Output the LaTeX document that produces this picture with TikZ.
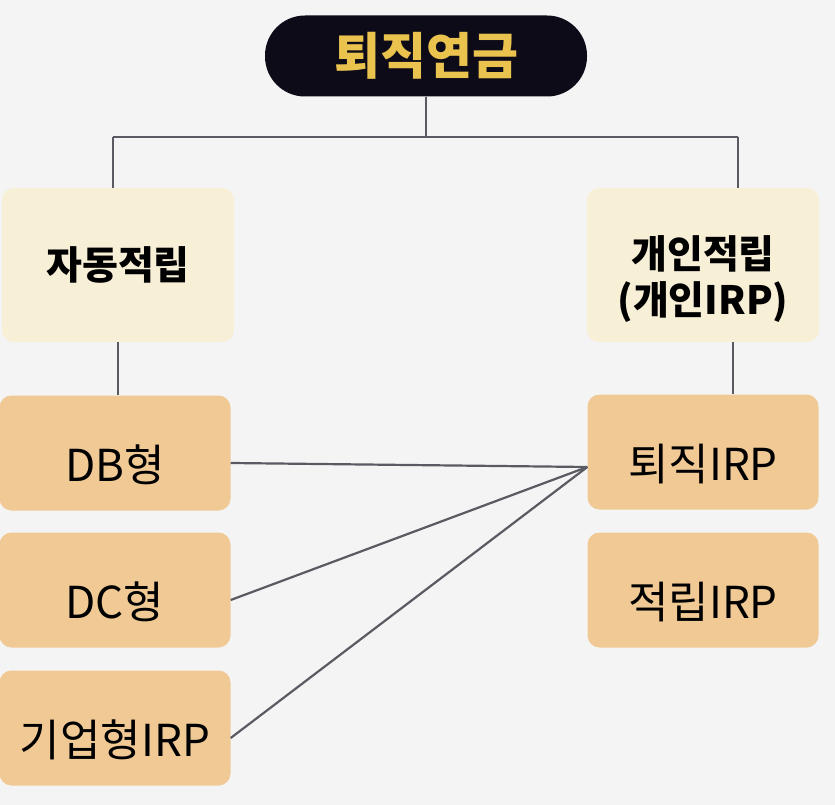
\documentclass[tikz,border=0pt]{standalone}
\usepackage{fontspec}
\setmainfont{Noto Sans CJK KR}
\definecolor{bgray}{HTML}{F4F4F4}
\definecolor{pillbk}{HTML}{0D0B18}
\definecolor{gold}{HTML}{EAC24E}
\definecolor{cream}{HTML}{F8EFD7}
\definecolor{tan}{HTML}{F0C995}
\definecolor{linegray}{HTML}{5A5A62}
\begin{document}
\begin{tikzpicture}[x=1pt,y=-1pt,
    wire/.style={linegray,line width=2.2pt},
    headbox/.style={fill=cream,rounded corners=12pt,minimum width=232pt,minimum height=154pt,
      inner sep=0pt,align=center,font=\fontsize{39}{46}\selectfont\bfseries},
    planbox/.style={fill=tan,rounded corners=12pt,minimum width=231pt,minimum height=115pt,
      inner sep=0pt,text height=60pt,text depth=4pt,font=\fontsize{44}{50}\selectfont}]
    \fill[bgray] (0,0) rectangle (835,805);
    \useasboundingbox (0,0) rectangle (835,805);
    % top
    \node[fill=pillbk,rounded corners=40pt,minimum width=322pt,minimum height=81pt,
      text=gold,font=\fontsize{50}{50}\selectfont\bfseries] (title) at (426,56) {퇴직연금};
    % two ways
    \node[headbox] (auto) at (118,265) {자동적립};
    \node[headbox] (indiv) at (703,265)
      {\raisebox{-20pt}[0pt][0pt]{\parbox[c]{220pt}{\centering 개인적립\\(개인IRP)}}};
    % plans
    \node[planbox] (db) at (115,453) {DB형};
    \node[planbox] (dc) at (115,590) {DC형};
    \node[planbox] (corp) at (115,728) {기업형IRP};
    \node[planbox] (ret) at (703,452) {퇴직IRP};
    \node[planbox] (acc) at (703,590) {적립IRP};
    % tree lines
    \coordinate (hub) at (426,137);
    \coordinate (lft) at (113,137);
    \coordinate (rgt) at (738,137);
    \draw[wire] (title) -- (hub);
    \draw[wire] (lft) -- (rgt);
    \draw[wire] (lft) -- (lft |- auto.north);
    \draw[wire] (rgt) -- (rgt |- indiv.north);
    \draw[wire] (auto.south) -- (auto.south |- db.north);
    \draw[wire] ([xshift=30pt]indiv.south) -- ([xshift=30pt]ret.north);
    % transfers
    \coordinate (meet) at ([yshift=-15pt]ret.west);
    \foreach \src in {db,dc,corp}
      \draw[wire] ([yshift=-10pt]\src.east) -- (meet);
  \end{tikzpicture}
\end{document}
